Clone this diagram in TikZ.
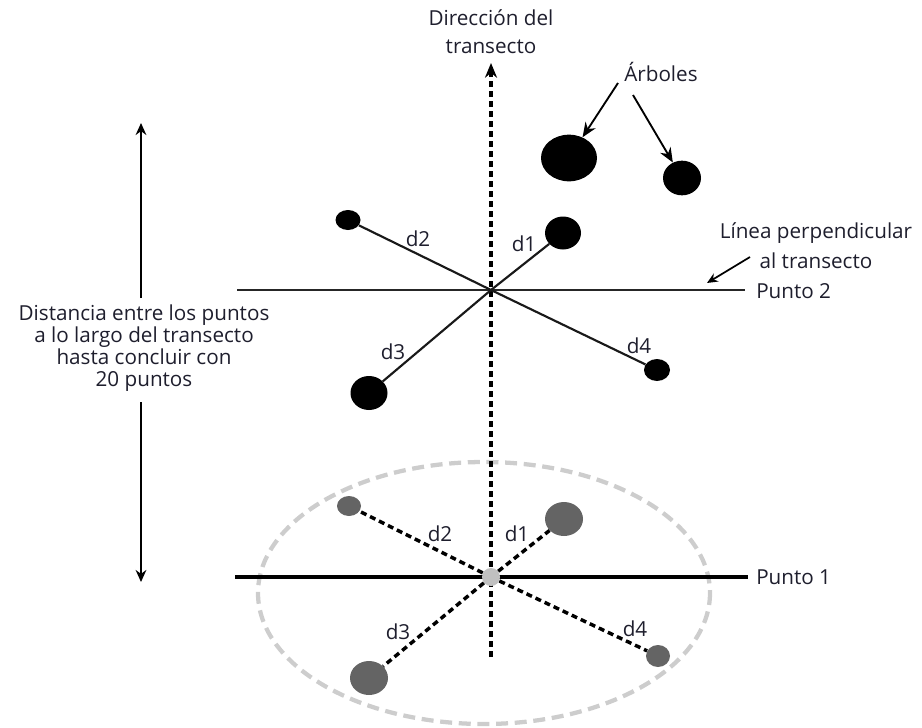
\documentclass[tikz,border=0pt]{standalone}
\usepackage{fontspec}
\setmainfont{Open Sans}
\usetikzlibrary{shapes.geometric,arrows.meta}
\definecolor{txt}{RGB}{30,30,45}
\definecolor{treeg}{RGB}{100,100,100}
\definecolor{ring}{RGB}{205,205,205}
\definecolor{cpt}{RGB}{192,192,192}
\begin{document}
\begin{tikzpicture}[x=0.75pt,y=-0.75pt,
  lbl/.style={font=\fontsize{15.5}{18}\selectfont, text=txt, inner sep=0pt},
  tree/.style={ellipse, fill=black, inner sep=0pt},
  gtree/.style={ellipse, fill=treeg, inner sep=0pt},
  solidray/.style={line width=1.6pt, black!90},
  dashray/.style={line width=2.6pt, dash pattern=on 4.5pt off 3pt, black},
  transect/.style={line width=2.7pt, dash pattern=on 4.5pt off 3pt, black},
  bigtip/.style={-{Stealth[length=11pt,width=9pt]}},
  smalltip/.style={-{Stealth[length=8pt,width=7pt]}},
  dbltip/.style={line width=1.7pt, -{Stealth[length=9pt,width=8pt]}}
]
\useasboundingbox (0,0) rectangle (922,728);

% gray dashed ring around point 1
\draw[ring, line width=3.2pt, dash pattern=on 9pt off 5pt] (484,593) ellipse [x radius=226, y radius=131];

% transect
\coordinate (tb) at (491,657);
\coordinate (tt) at (491,63);
\draw[transect, bigtip] (tb) -- (tt);
\node[lbl, align=center, font=\fontsize{15.5}{21}\selectfont] (title) at (491,32) {Dirección del\\transecto};

% perpendicular lines
\coordinate (l2a) at (237,290);
\coordinate (l2b) at (745,290);
\draw[line width=1.7pt, black!85] (l2a) -- (l2b);
\coordinate (l1a) at (235,577);
\coordinate (l1b) at (748,577);
\draw[line width=2.7pt, black] (l1a) -- (l1b);

% point 2 (top)
\coordinate (p2) at (491,290);
\node[tree, minimum width=27pt, minimum height=24.75pt] (t1) at (563,233) {};
\node[tree, minimum width=18.75pt, minimum height=15pt] (t2) at (348,220) {};
\node[tree, minimum width=27.75pt, minimum height=25.5pt] (t3) at (369,393) {};
\node[tree, minimum width=19.5pt, minimum height=16.5pt] (t4) at (657,370) {};
\draw[solidray] (p2) -- (t1);
\draw[solidray] (p2) -- (t2);
\draw[solidray] (p2) -- (t3);
\draw[solidray] (p2) -- (t4);
\node[lbl] (d1t) at (524,244) {d1};
\node[lbl] (d2t) at (418,239) {d2};
\node[lbl] (d3t) at (393,352) {d3};
\node[lbl] (d4t) at (639,346) {d4};

% trees
\node[tree, minimum width=42pt, minimum height=35pt] (ta) at (569,158) {};
\node[tree, minimum width=28.5pt, minimum height=26pt] (tbb) at (682,178) {};
\node[lbl] (arb) at (661,72) {Árboles};
\coordinate (a1s) at (618,83);
\coordinate (a2s) at (633,95);
\draw[line width=1.4pt, bigtip] (a1s) -- (ta);
\draw[line width=1.4pt, bigtip] (a2s) -- (tbb);

% perpendicular label
\node[lbl, align=center, font=\fontsize{15.5}{22.5}\selectfont] (perp) at (816,246) {Línea perpendicular\\al transecto};
\coordinate (pas) at (750,257);
\coordinate (pae) at (707,283);
\draw[line width=1.3pt, smalltip] (pas) -- (pae);
\node[lbl, anchor=west] (pt2) at (756,291) {Punto 2};
\node[lbl, anchor=west] (pt1) at (756,577) {Punto 1};

% point 1 (bottom)
\node[gtree, minimum width=28.5pt, minimum height=25.5pt] (g1) at (564,519) {};
\node[gtree, minimum width=18pt, minimum height=15pt] (g2) at (349,506) {};
\node[gtree, minimum width=28.5pt, minimum height=25.5pt] (g3) at (369,678) {};
\node[gtree, minimum width=18pt, minimum height=16.5pt] (g4) at (658,656) {};
\node[circle, fill=cpt, inner sep=0pt, minimum size=13.5pt] (p1) at (491,577) {};
\draw[dashray] (p1) -- (g1);
\draw[dashray] (p1) -- (g2);
\draw[dashray] (p1) -- (g3);
\draw[dashray] (p1) -- (g4);
\node[lbl] (e1) at (517,534) {d1};
\node[lbl] (e2) at (440,534) {d2};
\node[lbl] (e3) at (398,632) {d3};
\node[lbl] (e4) at (635,629) {d4};

% distance arrow
\node[lbl, align=center, font=\fontsize{15.5}{16.5}\selectfont] (dist) at (144,348) {Distancia entre los puntos\\a lo largo del transecto\\hasta concluir con\\20 puntos};
\coordinate (lt1) at (141,298);
\coordinate (lt2) at (141,123);
\coordinate (lb1) at (141,402);
\coordinate (lb2) at (141,582);
\draw[dbltip] (lt1) -- (lt2);
\draw[dbltip] (lb1) -- (lb2);
\end{tikzpicture}
\end{document}
